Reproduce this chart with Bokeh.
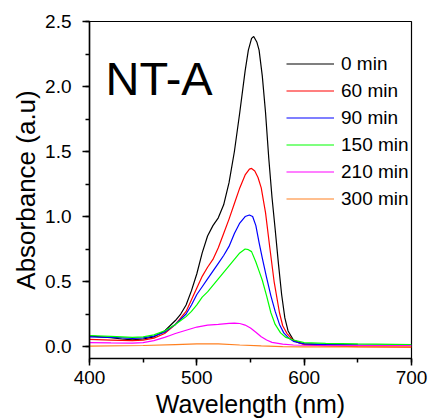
from bokeh.plotting import figure
from bokeh.models import Range1d, SingleIntervalTicker, Label, NumeralTickFormatter
from bokeh.embed import file_html
from bokeh.resources import INLINE

# ---------------- data ----------------
labels = ["0 min", "60 min", "90 min", "150 min", "210 min", "300 min"]
colors = ["#000000", "#FF0000", "#0000FF", "#00FF00", "#FF00FF", "#FF8020"]

wl_0 = [400, 410, 420, 430, 440, 450, 460, 470, 475, 480, 485, 490, 495, 500, 505, 510,
        515, 520, 525, 530, 535, 540, 545, 548, 551, 553, 556, 558, 561, 564, 567, 570,
        573, 576, 579, 582, 585, 590, 595, 600, 620, 650, 700]
abs_0 = [0.082, 0.075, 0.068, 0.058, 0.052, 0.058, 0.075, 0.12, 0.16, 0.20, 0.25, 0.32,
         0.43, 0.56, 0.72, 0.85, 0.93, 0.99, 1.09, 1.26, 1.50, 1.80, 2.12, 2.28, 2.37,
         2.385, 2.34, 2.28, 2.08, 1.80, 1.45, 1.15, 0.90, 0.64, 0.40, 0.22, 0.12, 0.05,
         0.03, 0.02, 0.015, 0.012, 0.01]

wl_60 = [400, 420, 440, 450, 460, 470, 475, 480, 485, 490, 495, 500, 505, 510, 515, 520,
         525, 530, 535, 540, 545, 549, 551, 554, 557, 560, 564, 568, 572, 577, 580, 584,
         590, 600, 620, 650, 700]
abs_60 = [0.055, 0.05, 0.045, 0.05, 0.065, 0.10, 0.135, 0.17, 0.22, 0.27, 0.36, 0.45,
          0.54, 0.61, 0.67, 0.76, 0.87, 0.98, 1.10, 1.22, 1.32, 1.365, 1.37, 1.35, 1.30,
          1.22, 1.03, 0.76, 0.50, 0.26, 0.16, 0.10, 0.045, 0.015, 0.005, 0.0, -0.005]

wl_90 = [400, 420, 440, 450, 460, 470, 475, 480, 485, 490, 495, 500, 505, 510, 515, 520,
         525, 530, 535, 540, 545, 549, 552, 555, 558, 561, 565, 569, 573, 577, 581, 585,
         590, 600, 620, 650, 700]
abs_90 = [0.075, 0.07, 0.063, 0.066, 0.08, 0.11, 0.14, 0.17, 0.21, 0.25, 0.32, 0.40,
          0.46, 0.52, 0.58, 0.64, 0.70, 0.77, 0.87, 0.95, 1.00, 1.012, 1.0, 0.93, 0.80,
          0.68, 0.53, 0.39, 0.27, 0.17, 0.105, 0.07, 0.04, 0.02, 0.015, 0.012, 0.01]

wl_150 = [400, 420, 440, 450, 460, 470, 475, 480, 485, 490, 495, 500, 505, 510, 515, 520,
          525, 530, 535, 540, 545, 548, 551, 555, 558, 561, 565, 569, 573, 578, 583, 590,
          600, 620, 650, 700]
abs_150 = [0.085, 0.078, 0.07, 0.075, 0.09, 0.12, 0.145, 0.17, 0.20, 0.23, 0.27, 0.32,
           0.38, 0.42, 0.47, 0.52, 0.57, 0.62, 0.67, 0.72, 0.75, 0.745, 0.73, 0.65, 0.58,
           0.51, 0.39, 0.26, 0.17, 0.105, 0.07, 0.05, 0.03, 0.025, 0.02, 0.015]

wl_210 = [400, 420, 440, 450, 460, 470, 475, 480, 490, 500, 510, 520, 530, 535, 540, 545,
          550, 555, 560, 565, 570, 580, 590, 600, 650, 700]
abs_210 = [0.03, 0.028, 0.027, 0.03, 0.045, 0.07, 0.085, 0.10, 0.125, 0.15, 0.165, 0.17,
           0.178, 0.18, 0.177, 0.165, 0.143, 0.11, 0.075, 0.05, 0.032, 0.018, 0.012, 0.01,
           0.008, 0.008]

wl_300 = [400, 450, 480, 500, 520, 540, 560, 580, 600, 650, 700]
abs_300 = [0.003, 0.008, 0.015, 0.02, 0.02, 0.012, 0.005, 0.0, -0.003, -0.003, -0.002]

x_label = "Wavelength (nm)"
y_label = "Absorbance (a.u)"
sample_name = "NT-A"

series_x = [wl_0, wl_60, wl_90, wl_150, wl_210, wl_300]
series_y = [abs_0, abs_60, abs_90, abs_150, abs_210, abs_300]

# ---------------- figure ----------------
FONT = "Liberation Sans"

p = figure(width=430, height=420, output_backend="svg", toolbar_location=None,
           x_range=Range1d(400, 700), y_range=Range1d(-0.092, 2.5),
           min_border_left=89, min_border_right=19, min_border_top=21, min_border_bottom=61)

for xs, ys, c, lab in zip(series_x, series_y, colors, labels):
    p.line(xs, ys, line_color=c, line_width=1.2, legend_label=lab)

p.xgrid.visible = False
p.ygrid.visible = False
p.outline_line_color = "#000000"
p.outline_line_width = 1.2
p.background_fill_color = "white"
p.border_fill_color = "white"

p.xaxis.ticker = SingleIntervalTicker(interval=100, num_minor_ticks=2)
p.yaxis.ticker = SingleIntervalTicker(interval=0.5, num_minor_ticks=2)
p.yaxis.formatter = NumeralTickFormatter(format="0.0")

for ax in (p.xaxis[0], p.yaxis[0]):
    ax.axis_line_color = "#000000"
    ax.axis_line_width = 1.5
    ax.major_tick_line_color = "#000000"
    ax.minor_tick_line_color = "#000000"
    ax.major_tick_line_width = 1.5
    ax.minor_tick_line_width = 1.5
    ax.major_tick_in = 0
    ax.major_tick_out = 7
    ax.minor_tick_in = 0
    ax.minor_tick_out = 4
    ax.major_label_text_font = FONT
    ax.major_label_text_font_size = "19px"
    ax.major_label_text_color = "#000000"
    ax.axis_label_text_font = FONT
    ax.axis_label_text_font_size = "25px"
    ax.axis_label_text_font_style = "normal"
    ax.axis_label_text_color = "#000000"

p.yaxis.axis_label_text_font_size = "26px"
p.xaxis.axis_label = x_label
p.yaxis.axis_label = y_label
p.xaxis.major_label_standoff = 5
p.yaxis.major_label_standoff = 11
p.xaxis.axis_label_standoff = 3
p.yaxis.axis_label_standoff = 1

p.add_layout(Label(x=415, y=2.06, text=sample_name, text_font=FONT,
                   text_font_size="47px", text_color="#000000",
                   text_baseline="alphabetic"))

lg = p.legend[0]
lg.location = (197, 146)
lg.padding = 0
lg.margin = 0
lg.spacing = 0
lg.border_line_alpha = 0
lg.background_fill_alpha = 0
lg.glyph_width = 48
lg.glyph_height = 27
lg.label_height = 27
lg.label_standoff = 7
lg.label_text_font = FONT
lg.label_text_font_size = "19px"
lg.label_text_color = "#000000"

open("out.html", "w").write(file_html(p, INLINE))
